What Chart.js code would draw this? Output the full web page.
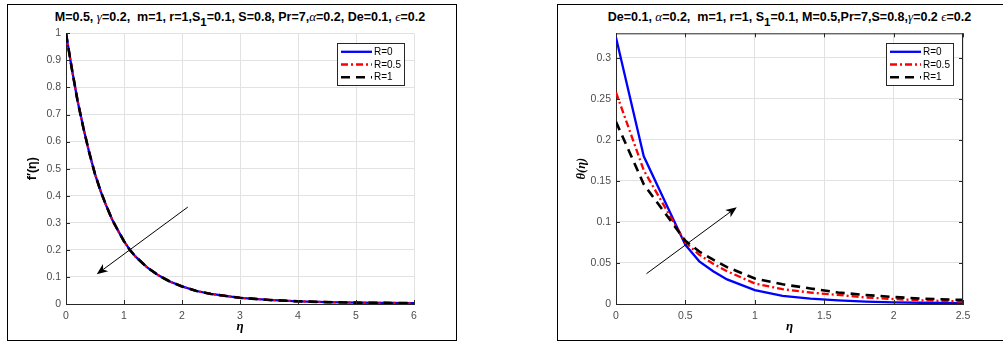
<!DOCTYPE html>
<html>
<head>
<meta charset="utf-8">
<script src="https://cdn.jsdelivr.net/npm/chart.js@4.4.1/dist/chart.umd.min.js"></script>
<style>
  body { margin: 0; width: 1003px; height: 343px; overflow: hidden; background: #fff; font-family: "Liberation Sans", Arial, sans-serif; }
  .frame { position: absolute; border: 1px solid #000; box-sizing: border-box; }
  .titulo { position: absolute; text-align: center; font-weight: bold; font-size: 12.5px; color: #000; white-space: pre; }
  .titulo .gr { font-family: "Liberation Serif", "DejaVu Serif", serif; font-weight: normal; font-style: italic; font-size: 13px; }
  .titulo sub { font-size: 11.5px; vertical-align: -5px; line-height: 0; }
  canvas { position: absolute; }
</style>
</head>
<body>
<div class="frame" style="left:7px; top:4px; width:450px; height:337px;"></div>
<div class="frame" style="left:557px; top:4px; width:460px; height:337px;"></div>

<div class="titulo" style="left:26px; width:428px; top:9px;">M=0.5, <span class="gr">γ</span>=0.2,  m=1, r=1,S<sub>1</sub>=0.1, S=0.8, Pr=7,<span class="gr">α</span>=0.2, De=0.1, <span class="gr">ϵ</span>=0.2</div>
<div class="titulo" style="left:576px; width:427px; top:9px;">De=0.1, <span class="gr">α</span>=0.2,  m=1, r=1, S<sub>1</sub>=0.1, M=0.5,Pr=7,S=0.8,<span class="gr">γ</span>=0.2 <span class="gr">ϵ</span>=0.2</div>

<canvas id="graf-f" style="left:8px; top:22px;" width="448" height="318"></canvas>
<canvas id="graf-t" style="left:558px; top:22px;" width="445" height="318"></canvas>

<script>
// series names
const serieNomes = ["R=0", "R=0.5", "R=1"];

// f'(eta) - the three curves lie on top of each other
const etaF = [0, 0.1, 0.2, 0.3, 0.4, 0.5, 0.6, 0.7, 0.8, 0.9, 1.0, 1.1, 1.2, 1.4, 1.6, 1.8, 2.0, 2.25, 2.5, 3.0, 3.5, 4.0, 4.5, 5.0, 5.5, 6.0];
const fR0  = [1, 0.87, 0.75, 0.65, 0.56, 0.48, 0.415, 0.36, 0.31, 0.27, 0.232, 0.2, 0.175, 0.135, 0.105, 0.082, 0.065, 0.048, 0.037, 0.023, 0.015, 0.01, 0.007, 0.005, 0.004, 0.003];
const fR05 = [1, 0.87, 0.75, 0.65, 0.56, 0.48, 0.415, 0.36, 0.31, 0.27, 0.232, 0.2, 0.175, 0.135, 0.105, 0.082, 0.065, 0.048, 0.037, 0.023, 0.015, 0.01, 0.007, 0.005, 0.004, 0.003];
const fR1  = [1, 0.87, 0.75, 0.65, 0.56, 0.48, 0.415, 0.36, 0.31, 0.27, 0.232, 0.2, 0.175, 0.135, 0.105, 0.082, 0.065, 0.048, 0.037, 0.023, 0.015, 0.01, 0.007, 0.005, 0.004, 0.003];

// theta(eta)
const etaT = [0, 0.2, 0.4, 0.5, 0.6, 0.7, 0.8, 1.0, 1.2, 1.4, 1.6, 1.8, 2.0, 2.2, 2.5];
const tR0  = [0.325, 0.18, 0.108, 0.072, 0.052, 0.04, 0.03, 0.017, 0.01, 0.0065, 0.0045, 0.003, 0.002, 0.0015, 0.001];
const tR05 = [0.258, 0.163, 0.104, 0.075, 0.06, 0.049, 0.04, 0.025, 0.018, 0.014, 0.011, 0.008, 0.006, 0.0045, 0.003];
const tR1  = [0.222, 0.146, 0.1, 0.077, 0.064, 0.054, 0.045, 0.031, 0.024, 0.019, 0.014, 0.011, 0.0085, 0.0065, 0.005];

// tick labels
const xTicksF = [0, 1, 2, 3, 4, 5, 6];
const yTicksF = [0, 0.1, 0.2, 0.3, 0.4, 0.5, 0.6, 0.7, 0.8, 0.9, 1];
const xTicksT = [0, 0.5, 1, 1.5, 2, 2.5];
const yTicksT = [0, 0.05, 0.1, 0.15, 0.2, 0.25, 0.3];

// arrows [x0, y0, x1, y1] in data units, head at the end
const setaF = [2.1, 0.358, 0.53, 0.11];
const setaT = [0.22, 0.037, 0.87, 0.118];

const estilos = [
  { cor: "#0000ff", dash: [], larg: 2.3 },
  { cor: "#ff0000", dash: [7, 3, 2, 3], larg: 2.3 },
  { cor: "#000000", dash: [9, 6], larg: 2.6 }
];

const corGrade = "#e2e2e2";
const corEixo = "#262626";
const corTexto = "#4d4d4d";

function pares(xs, ys) {
  return xs.map((x, i) => ({ x: x, y: ys[i] }));
}

function montaDatasets(xs, series) {
  return series.map((ys, i) => ({
    label: serieNomes[i],
    data: pares(xs, ys),
    borderColor: estilos[i].cor,
    borderDash: estilos[i].dash,
    borderWidth: estilos[i].larg,
    pointRadius: 0,
    tension: 0,
    fill: false,
    order: series.length - i   // last series drawn on top, like plot order
  }));
}

// ticks pointing in, optional box, arrow and legend
const extras = {
  id: "extras",
  afterDatasetsDraw(chart, args, opts) {
    const ctx = chart.ctx;
    const a = chart.chartArea;
    const sx = chart.scales.x, sy = chart.scales.y;
    ctx.save();
    ctx.setLineDash([]);
    ctx.strokeStyle = corEixo;
    ctx.lineWidth = 1;
    ctx.beginPath();
    sx.ticks.forEach(t => {
      const px = Math.round(sx.getPixelForValue(t.value)) + 0.5;
      ctx.moveTo(px, a.bottom); ctx.lineTo(px, a.bottom - 4);
      if (opts.caixa) { ctx.moveTo(px, a.top); ctx.lineTo(px, a.top + 4); }
    });
    sy.ticks.forEach(t => {
      const py = Math.round(sy.getPixelForValue(t.value)) + 0.5;
      ctx.moveTo(a.left, py); ctx.lineTo(a.left + 4, py);
      if (opts.caixa) { ctx.moveTo(a.right, py); ctx.lineTo(a.right - 4, py); }
    });
    if (opts.caixa) {
      ctx.moveTo(a.left, a.top + 0.5); ctx.lineTo(a.right, a.top + 0.5);
      ctx.moveTo(a.right - 0.5, a.top); ctx.lineTo(a.right - 0.5, a.bottom);
    }
    ctx.stroke();

    // arrow
    const s = opts.seta;
    const x0 = sx.getPixelForValue(s[0]), y0 = sy.getPixelForValue(s[1]);
    const x1 = sx.getPixelForValue(s[2]), y1 = sy.getPixelForValue(s[3]);
    const ang = Math.atan2(y1 - y0, x1 - x0);
    const L = 11, W = 4.5, back = 8;
    const bx = x1 - Math.cos(ang) * back, by = y1 - Math.sin(ang) * back;
    ctx.strokeStyle = "#000";
    ctx.lineWidth = 1;
    ctx.beginPath();
    ctx.moveTo(x0, y0); ctx.lineTo(bx, by);
    ctx.stroke();
    ctx.fillStyle = "#000";
    ctx.beginPath();
    ctx.moveTo(x1, y1);
    ctx.lineTo(x1 - Math.cos(ang) * L - Math.sin(ang) * W, y1 - Math.sin(ang) * L + Math.cos(ang) * W);
    ctx.lineTo(bx, by);
    ctx.lineTo(x1 - Math.cos(ang) * L + Math.sin(ang) * W, y1 - Math.sin(ang) * L - Math.cos(ang) * W);
    ctx.closePath();
    ctx.fill();

    // legend box, top right inside the axes
    const lw = 67, lh = 42;
    const lx = a.right - opts.legDir - lw, ly = a.top + 10;
    ctx.fillStyle = "#fff";
    ctx.fillRect(lx, ly, lw, lh);
    ctx.strokeStyle = "#262626";
    ctx.lineWidth = 1;
    ctx.strokeRect(Math.round(lx) + 0.5, Math.round(ly) + 0.5, lw, lh);
    ctx.font = "10px 'Liberation Sans', Arial, sans-serif";
    ctx.textBaseline = "middle";
    chart.data.datasets.forEach((d, i) => {
      const yy = ly + 8.5 + i * 12.7;
      ctx.strokeStyle = d.borderColor;
      ctx.lineWidth = d.borderWidth;
      ctx.setLineDash(d.borderDash);
      ctx.beginPath();
      ctx.moveTo(lx + 4, yy); ctx.lineTo(lx + 35, yy);
      ctx.stroke();
      ctx.fillStyle = "#000";
      ctx.fillText(d.label, lx + 37, yy + 0.5);
    });
    ctx.restore();
  }
};

function fixaTicks(valores) {
  return s => { s.ticks = valores.map(v => ({ value: v })); };
}

function opcoes(cfg) {
  return {
    responsive: false,
    animation: false,
    layout: { padding: { top: 9, right: cfg.dir, left: 0, bottom: 0 } },
    plugins: {
      legend: { display: false },
      tooltip: { enabled: false },
      extras: { caixa: cfg.caixa, seta: cfg.seta, legDir: cfg.legDir }
    },
    scales: {
      x: {
        type: "linear",
        min: cfg.xMin, max: cfg.xMax,
        afterBuildTicks: fixaTicks(cfg.xTicks),
        afterFit: s => { s.height = 36; },
        grid: { color: corGrade, drawTicks: false },
        border: { color: corEixo, width: 1 },
        ticks: { padding: 6, color: corTexto, font: { size: 10.5, family: "'Liberation Sans', Arial, sans-serif" }, maxRotation: 0, callback: v => String(v) },
        title: { display: true, text: "η", color: "#000", padding: { top: 0, bottom: 6 }, font: { size: 13, weight: "bold", style: "italic", family: "'Liberation Serif', 'DejaVu Serif', serif" } }
      },
      y: {
        type: "linear",
        min: cfg.yMin, max: cfg.yMax,
        afterBuildTicks: fixaTicks(cfg.yTicks),
        afterFit: s => { s.width = 58; },
        grid: { color: corGrade, drawTicks: false },
        border: { color: corEixo, width: 1 },
        ticks: { padding: 5, color: corTexto, font: { size: 10.5, family: "'Liberation Sans', Arial, sans-serif" }, callback: v => String(v) },
        title: { display: true, text: cfg.yTitulo, color: "#000", padding: { top: cfg.yTitPad, bottom: 0 }, font: { size: 12.5, weight: "bold", style: cfg.yEstilo, family: cfg.yFonte } }
      }
    }
  };
}

new Chart(document.getElementById("graf-f"), {
  type: "line",
  data: { datasets: montaDatasets(etaF, [fR0, fR05, fR1]) },
  options: opcoes({
    dir: 42, caixa: false, seta: setaF, legDir: 10,
    xMin: 0, xMax: 6, xTicks: xTicksF,
    yMin: 0, yMax: 1, yTicks: yTicksF,
    yTitulo: "f′(η)", yTitPad: 17, yEstilo: "normal", yFonte: "'Liberation Sans', Arial, sans-serif"
  }),
  plugins: [extras]
});

new Chart(document.getElementById("graf-t"), {
  type: "line",
  data: { datasets: montaDatasets(etaT, [tR0, tR05, tR1]) },
  options: opcoes({
    dir: 40, caixa: true, seta: setaT, legDir: 10,
    xMin: 0, xMax: 2.5, xTicks: xTicksT,
    yMin: 0, yMax: 0.33, yTicks: yTicksT,
    yTitulo: "θ(η)", yTitPad: 16, yEstilo: "italic", yFonte: "'Liberation Serif', 'DejaVu Serif', serif"
  }),
  plugins: [extras]
});
</script>
</body>
</html>
